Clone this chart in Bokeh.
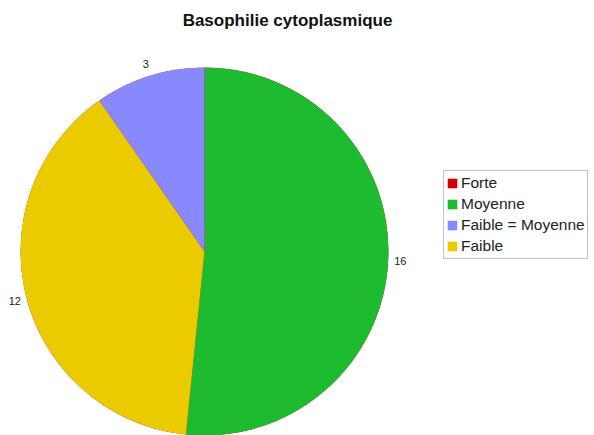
import numpy as np
from bokeh.plotting import figure
from bokeh.models import Range1d, Legend, LegendItem, ColumnDataSource
from bokeh.core.properties import value
from bokeh.embed import file_html
from bokeh.resources import INLINE

# ---- data ----
title_text = "Basophilie cytoplasmique"
legend_order = ["Forte", "Moyenne", "Faible = Moyenne", "Faible"]
pie_categories = ["Forte", "Moyenne", "Faible", "Faible = Moyenne"]  # clockwise from 12 o'clock
pie_counts = [0, 16, 12, 3]
pie_colors = ["#d40000", "#1dbb2f", "#eacb00", "#8888ff"]

# ---- layout (pixel-like data units) ----
W, H = 594, 435
cx, cy, radius = 204, H - 251, 184
label_r = 196

vals = np.array(pie_counts, dtype=float)
frac = vals / vals.sum()
cum_end = np.cumsum(frac)
cum_start = cum_end - frac
start_angle = np.pi / 2 - 2 * np.pi * cum_end
end_angle = np.pi / 2 - 2 * np.pi * cum_start
mid = (start_angle + end_angle) / 2

src = ColumnDataSource(dict(
    cat=pie_categories, count=pie_counts, color=pie_colors,
    start=start_angle, end=end_angle,
))

p = figure(width=W, height=H, output_backend="svg", toolbar_location=None,
           x_range=Range1d(0, W), y_range=Range1d(0, H),
           min_border=0, outline_line_color=None, tools="")
p.axis.visible = False
p.grid.visible = False
p.background_fill_color = "white"
p.border_fill_color = "white"

r = p.wedge(x=cx, y=cy, radius=radius, start_angle="start", end_angle="end",
            fill_color="color", line_color=None, source=src)

# value labels outside slices (skip zero)
lx, ly, lt = [], [], []
for c, m in zip(pie_counts, mid):
    if c > 0:
        lx.append(cx + label_r * np.cos(m))
        ly.append(cy + label_r * np.sin(m))
        lt.append(str(c))
p.text(x=lx, y=ly, text=lt, text_align="center", text_baseline="middle",
       text_font=value("Liberation Sans"), text_font_size="11px", text_color="#222222")

# title
p.text(x=[287], y=[H - 20], text=[title_text], text_align="center", text_baseline="middle",
       text_font=value("Liberation Sans"), text_font_size="17px", text_font_style="bold",
       text_color="#111111")

items = [LegendItem(label=c, renderers=[r], index=pie_categories.index(c)) for c in legend_order]
legend = Legend(items=items, location=(443, H - 259),
                label_text_font="Liberation Sans", label_text_font_size="15.5px",
                label_text_color="#222222",
                glyph_width=12, glyph_height=12, label_height=20, label_standoff=3,
                spacing=1, padding=2, margin=0,
                border_line_color="#888888", border_line_width=1,
                background_fill_color="white", background_fill_alpha=1.0)
p.add_layout(legend, "center")

open("out.html", "w").write(file_html(p, INLINE))
